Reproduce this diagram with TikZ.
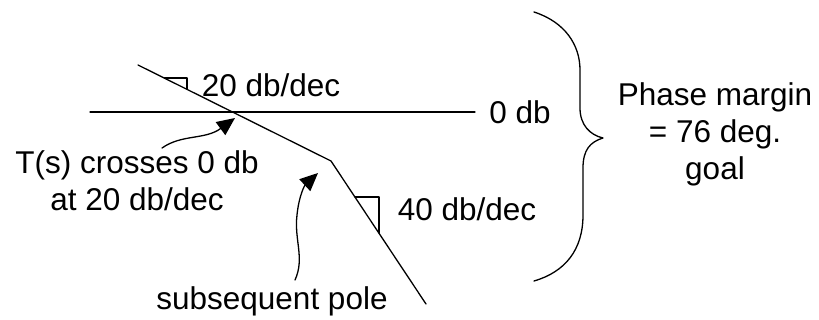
\documentclass[tikz,border=0pt]{standalone}
\usepackage{fontspec}
\setmainfont{Liberation Sans}
\usetikzlibrary{arrows.meta}
\begin{document}
\begin{tikzpicture}[x=1pt,y=-1pt,
  curve/.style={line width=1.3pt, line cap=round, line join=round},
  pointer/.style={curve, -{Triangle[length=18pt,width=16pt]}},
  lbl/.style={font=\fontsize{31.5}{37}\selectfont, inner sep=0pt, align=center}]
\useasboundingbox (0,0) rectangle (819,320);

% asymptotes
\coordinate (h0) at (90,112);
\coordinate (h1) at (475,112);
\coordinate (a) at (138,65);
\coordinate (cross) at (235,112);
\coordinate (brk) at (331,161);
\coordinate (e) at (426,304);
\draw[curve] (h0) -- (h1);
\draw[curve] (a) -- (brk) -- (e);

% slope markers
\draw[curve] (164.5,78) -- (187,78) -- (187,89);
\draw[curve] (355,197) -- (379,197) -- (379,233);

% labels
\node[lbl] (s20) at (271,85) {20 db/dec};
\node[lbl] (s40) at (467,209) {40 db/dec};
\node[lbl] (zdb) at (520,112) {0 db};
\node[lbl] (tcross) at (137,181) {T(s) crosses 0 db\\at 20 db/dec};
\node[lbl] (pole) at (272,301) {subsequent pole};
\node[lbl] (pm) at (715,134) {Phase margin\\= 76 deg.\\goal};

% pointers
\coordinate (p1) at (162,148);
\coordinate (t1) at (235,118);
\draw[pointer] (p1) .. controls (182,134) and (205,140) .. (t1);
\coordinate (p2) at (295,280);
\coordinate (t2) at (318,173);
\draw[pointer] (p2) .. controls (305,258) and (294,240) .. (297,215)
  .. controls (299,195) and (305,185) .. (t2);

% brace
\coordinate (bt) at (534,12);
\coordinate (bm) at (603,138);
\coordinate (bb) at (534,281);
\draw[curve] (bt) .. controls (565,22) and (580,45) .. (580,70)
  -- (580,108) .. controls (580,125) and (590,135) .. (bm)
  .. controls (590,142) and (583,150) .. (583,168)
  -- (583,215) .. controls (583,250) and (565,272) .. (bb);
\end{tikzpicture}
\end{document}
